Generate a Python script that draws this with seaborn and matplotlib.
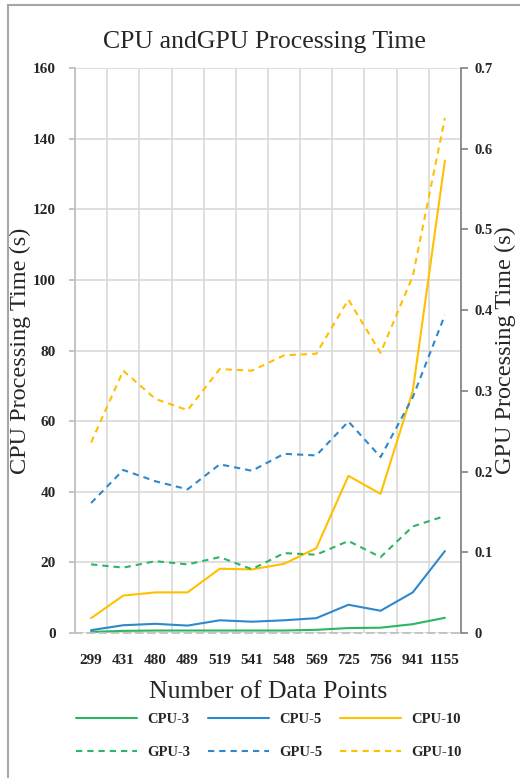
import numpy as np
import pandas as pd
import matplotlib
matplotlib.use("Agg")
import matplotlib.pyplot as plt
from matplotlib.patches import Rectangle
from matplotlib.lines import Line2D
import seaborn as sns

# Data
data_points = ['299', '431', '480', '489', '519', '541', '548', '569', '725', '756', '941', '1155']

cpu_3 = [0.3, 0.6, 0.7, 0.7, 0.7, 0.7, 0.7, 0.9, 1.4, 1.5, 2.5, 4.3]
cpu_5 = [0.8, 2.2, 2.6, 2.1, 3.6, 3.2, 3.6, 4.2, 8.0, 6.3, 11.5, 23.2]
cpu_10 = [4.2, 10.6, 11.5, 11.5, 18.2, 18.0, 19.6, 24.0, 44.5, 39.4, 68.5, 133.8]

gpu_3 = [0.085, 0.081, 0.089, 0.085, 0.094, 0.079, 0.099, 0.097, 0.114, 0.094, 0.132, 0.145]
gpu_5 = [0.161, 0.202, 0.188, 0.178, 0.209, 0.201, 0.222, 0.220, 0.262, 0.218, 0.292, 0.394]
gpu_10 = [0.236, 0.325, 0.290, 0.276, 0.327, 0.325, 0.344, 0.346, 0.413, 0.347, 0.442, 0.638]

colors = {'3': '#2DB563', '5': '#2F88CC', '10': '#FFC000'}

idx = np.arange(len(data_points))
cpu_df = pd.DataFrame({
    'idx': np.tile(idx, 3),
    'time': cpu_3 + cpu_5 + cpu_10,
    'k': ['3'] * 12 + ['5'] * 12 + ['10'] * 12,
})
gpu_df = pd.DataFrame({
    'idx': np.tile(idx, 3),
    'time': gpu_3 + gpu_5 + gpu_10,
    'k': ['3'] * 12 + ['5'] * 12 + ['10'] * 12,
})

sns.set_theme(style="white")
plt.rcParams['font.family'] = ['Liberation Serif', 'DejaVu Serif']

fig = plt.figure(figsize=(5.2, 7.78), dpi=100)
ax = fig.add_axes([75 / 520, 1 - 633 / 778, (461 - 75) / 520, (633 - 68) / 778])
ax2 = ax.twinx()

sns.lineplot(data=cpu_df, x='idx', y='time', hue='k', palette=colors,
             ax=ax, legend=False, linewidth=1.5, sort=False)
sns.lineplot(data=gpu_df, x='idx', y='time', hue='k', palette=colors,
             ax=ax2, legend=False, linewidth=1.5, sort=False)
for ln in ax2.get_lines():
    ln.set_dashes((3.0, 2.4))

# axes and grid
ax.set_xlim(-0.5, 11.5)
ax.set_ylim(0, 160)
ax.set_yticks(np.arange(0, 161, 20))
ax2.set_ylim(0, 0.7)
ax2.set_yticks(np.arange(0, 0.71, 0.1))
ax2.set_yticklabels(['0'] + ['%.1f' % v for v in np.arange(0.1, 0.71, 0.1)])

ax.set_xticks(idx)
ax.set_xticklabels(data_points)
ax.set_xticks(np.arange(-0.5, 12, 1), minor=True)
ax.grid(False)
ax.grid(True, axis='y', which='major', color='#d9d9d9', linewidth=1.2)
ax.grid(True, axis='x', which='minor', color='#d9d9d9', linewidth=1.2)
ax.set_axisbelow(True)
ax2.grid(False)

for a in (ax, ax2):
    for s in a.spines.values():
        s.set_visible(False)
ax.spines['left'].set_visible(True)
ax.spines['left'].set_color('#bfbfbf')
ax.spines['bottom'].set_visible(True)
ax.spines['bottom'].set_color('#bfbfbf')
ax.spines['bottom'].set_linestyle((0, (4, 3)))
ax2.spines['right'].set_visible(True)
ax2.spines['right'].set_color('#808080')
ax2.spines['right'].set_linewidth(1.2)

ax.tick_params(axis='y', which='major', left=True, length=4, color='#bfbfbf',
               labelsize=11, pad=10)
ax.tick_params(axis='x', which='both', bottom=False, labelsize=11, pad=9)
ax2.tick_params(axis='y', right=True, length=5, color='#808080', width=1.2,
                labelsize=10.5, pad=5)
for lab in ax.get_yticklabels() + ax.get_xticklabels() + ax2.get_yticklabels():
    lab.set_fontweight('bold')

ax.set_xlabel('Number of Data Points', fontsize=18.5)
ax.xaxis.set_label_coords(0.5, -0.085)
ax.set_ylabel('CPU Processing Time (s)', fontsize=17.5)
ax.yaxis.set_label_coords(-0.113, 0.5)
ax2.set_ylabel('GPU Processing Time (s)', fontsize=17.5)
ax2.yaxis.set_label_coords(1.088, 0.5)
fig.text(264 / 520, 1 - 42 / 778, 'CPU andGPU Processing Time', ha='center',
         va='center', fontsize=18.5)

# legend (row 1 CPU, row 2 GPU)
handles, labels = [], []
for k in ['3', '5', '10']:
    handles.append(Line2D([], [], color=colors[k], linewidth=1.5))
    labels.append('CPU-' + k)
    handles.append(Line2D([], [], color=colors[k], linewidth=1.5, dashes=(3.0, 2.4)))
    labels.append('GPU-' + k)
leg = fig.legend(handles, labels, ncol=3, loc='center',
                 bbox_to_anchor=(269 / 520, 1 - 736 / 778), frameon=False,
                 handlelength=4.2, handletextpad=0.7, columnspacing=1.2,
                 labelspacing=1.35, prop={'size': 10.5, 'weight': 'bold'})

# outer chart border
fig.patches.append(Rectangle((8 / 520, -0.01), 1.0, 1 - 5 / 778 + 0.01,
                             transform=fig.transFigure, fill=False,
                             edgecolor='#a6a6a6', linewidth=1.5))

fig.savefig('out.png', dpi=100)
